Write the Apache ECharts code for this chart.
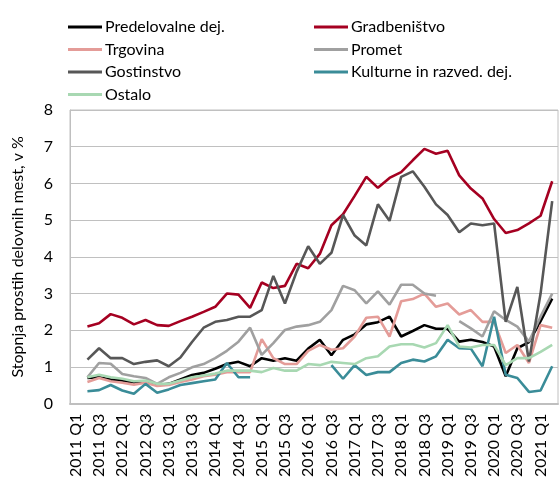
<!DOCTYPE html>
<html>
<head>
<meta charset="utf-8">
<script src="https://cdn.jsdelivr.net/npm/echarts@6/dist/echarts.min.js"></script>
<style>html,body{margin:0;padding:0;background:#fff;}#c{width:560px;height:480px;}</style>
</head>
<body>
<div id="c"></div>
<script>
var categories = ["2011 Q1","2011 Q2","2011 Q3","2011 Q4","2012 Q1","2012 Q2","2012 Q3","2012 Q4",
"2013 Q1","2013 Q2","2013 Q3","2013 Q4","2014 Q1","2014 Q2","2014 Q3","2014 Q4",
"2015 Q1","2015 Q2","2015 Q3","2015 Q4","2016 Q1","2016 Q2","2016 Q3","2016 Q4",
"2017 Q1","2017 Q2","2017 Q3","2017 Q4","2018 Q1","2018 Q2","2018 Q3","2018 Q4",
"2019 Q1","2019 Q2","2019 Q3","2019 Q4","2020 Q1","2020 Q2","2020 Q3","2020 Q4",
"2021 Q1","2021 Q2"];

var predelovalne = [null,0.70,0.72,0.66,0.63,0.57,0.59,0.51,0.54,0.66,0.78,0.84,0.95,1.08,1.14,1.02,1.24,1.17,1.24,1.17,1.50,1.74,1.32,1.74,1.89,2.16,2.22,2.37,1.83,1.98,2.14,2.04,2.04,1.69,1.74,1.68,1.56,0.75,1.51,1.68,2.25,2.86];
var gradbenistvo = [null,2.10,2.19,2.44,2.34,2.16,2.28,2.14,2.12,2.25,2.37,2.50,2.64,3.00,2.97,2.61,3.30,3.15,3.21,3.81,3.69,4.08,4.86,5.16,5.66,6.18,5.88,6.15,6.31,6.63,6.94,6.81,6.89,6.22,5.86,5.59,5.03,4.65,4.73,4.91,5.12,6.06];
var trgovina = [null,0.59,0.70,0.61,0.57,0.52,0.57,0.48,0.51,0.59,0.66,0.75,0.79,0.86,0.86,0.86,1.76,1.24,1.08,1.08,1.44,1.60,1.47,1.51,1.83,2.34,2.37,1.83,2.79,2.85,3.00,2.64,2.73,2.43,2.55,2.23,2.23,1.38,1.60,1.11,2.14,2.07];
var promet = [null,0.72,1.11,1.09,0.81,0.75,0.70,0.54,0.72,0.84,0.99,1.08,1.24,1.44,1.69,2.07,1.33,1.65,2.01,2.10,2.14,2.23,2.55,3.21,3.09,2.73,3.06,2.70,3.24,3.24,3.00,2.94,null,2.25,2.05,1.83,2.52,2.28,2.10,1.69,2.37,3.00];
var gostinstvo = [null,1.20,1.51,1.24,1.24,1.08,1.14,1.18,1.02,1.26,1.68,2.07,2.23,2.28,2.37,2.37,2.55,3.48,2.73,3.59,4.29,3.81,4.11,5.14,4.58,4.31,5.43,4.98,6.18,6.33,5.91,5.43,5.14,4.67,4.91,4.86,4.91,2.23,3.18,1.15,3.00,5.52];
var kulturne = [null,0.34,0.37,0.51,0.36,0.27,0.54,0.30,0.39,0.51,0.56,0.61,0.66,1.11,0.72,0.72,null,null,null,null,null,null,1.05,0.68,1.05,0.78,0.86,0.86,1.11,1.20,1.15,1.29,1.74,1.51,1.50,1.02,2.37,0.79,0.70,0.32,0.36,1.02];
var ostalo = [null,0.72,0.79,0.72,0.68,0.61,0.63,0.54,0.54,0.63,0.72,0.77,0.82,0.90,0.90,0.90,0.86,0.97,0.90,0.90,1.08,1.05,1.14,1.11,1.08,1.24,1.29,1.56,1.62,1.62,1.53,1.65,2.14,1.56,1.53,1.60,1.60,1.05,1.24,1.24,1.41,1.60];

var seriesDefs = [
  {name:"Predelovalne dej.", data:predelovalne, color:"#000000"},
  {name:"Gradbeništvo", data:gradbenistvo, color:"#a50021"},
  {name:"Trgovina", data:trgovina, color:"#e49c98"},
  {name:"Promet", data:promet, color:"#a0a0a0"},
  {name:"Gostinstvo", data:gostinstvo, color:"#575757"},
  {name:"Kulturne in razved. dej.", data:kulturne, color:"#3a8c98"},
  {name:"Ostalo", data:ostalo, color:"#a8d8b2"}
];

var FONT = "Lato";
var chart = echarts.init(document.getElementById('c'), null, {renderer:'canvas'});
var legendCommon = {
  orient:'vertical', top:13, icon:'rect', itemWidth:34, itemHeight:3, itemGap:4.5,
  itemStyle:{borderWidth:0},
  textStyle:{fontFamily:FONT, fontSize:16, color:'#000', padding:[0,0,0,-2], lineHeight:18},
  selectedMode:false
};
chart.setOption({
  animation:false,
  backgroundColor:'#fff',
  legend:[
    Object.assign({}, legendCommon, {left:63, data:["Predelovalne dej.","Trgovina","Gostinstvo","Ostalo"]}),
    Object.assign({}, legendCommon, {left:309, data:["Gradbeništvo","Promet","Kulturne in razved. dej."]})
  ],
  grid:{left:70, right:2, top:110, bottom:74, show:true, borderColor:'#c0c0c0', borderWidth:1},
  xAxis:{
    type:'category', data:categories, boundaryGap:true,
    axisLine:{lineStyle:{color:'#bfbfbf', width:2}},
    axisTick:{show:false},
    axisLabel:{interval:1, rotate:90, fontFamily:FONT, fontSize:16, color:'#000', margin:10}
  },
  yAxis:{
    type:'value', min:0, max:8, interval:1,
    name:'Stopnja prostih delovnih mest, v %', nameLocation:'middle', nameRotate:90, nameGap:44,
    nameTextStyle:{fontFamily:FONT, fontSize:16, color:'#000'},
    axisLine:{show:true, lineStyle:{color:'#bfbfbf'}},
    axisTick:{show:false},
    splitLine:{lineStyle:{color:'#c0c0c0', width:1}},
    axisLabel:{fontFamily:FONT, fontSize:16, color:'#000', margin:17}
  },
  series: seriesDefs.map(function(s){
    return {name:s.name, type:'line', data:s.data, showSymbol:false, symbol:'none',
      connectNulls:false, lineStyle:{color:s.color, width:2.6}, itemStyle:{color:s.color}};
  })
});
</script>
</body>
</html>
